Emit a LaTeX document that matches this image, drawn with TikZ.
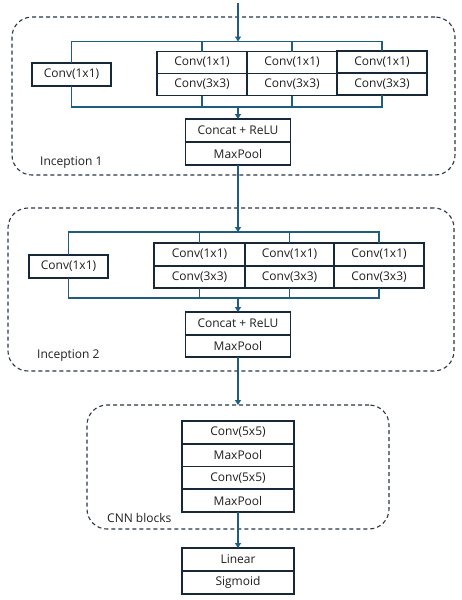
\documentclass[tikz,border=0pt]{standalone}
\usepackage{fontspec}
\setmainfont{Open Sans}
\usetikzlibrary{arrows.meta}
\definecolor{conncol}{HTML}{1F5C7E}
\definecolor{boxcol}{HTML}{17283A}
\definecolor{dashcol}{HTML}{2A3746}
\definecolor{txtcol}{HTML}{1E1E1E}
\begin{document}
\begin{tikzpicture}[x=1pt,y=-1pt,
  cell/.style={draw=boxcol,line width=1.8pt,rectangle,inner sep=0pt,outer sep=0pt,
    font=\fontsize{12}{14}\selectfont,text=txtcol},
  grp/.style={draw=dashcol,line width=1.1pt,dash pattern=on 4pt off 3pt,rounded corners=20pt,
    rectangle,inner sep=0pt,outer sep=0pt},
  conn/.style={draw=conncol,line width=1.4pt},
  arr/.style={conn,-{Triangle[width=6pt,length=5pt]}},
  lab/.style={font=\fontsize{12}{14}\selectfont,text=txtcol,anchor=west,inner sep=0pt}]
\useasboundingbox (0,0) rectangle (462,600);
% ---------------- dashed groups
\node[grp,minimum width=443pt,minimum height=158pt] (inc1) at (233.5,96) {};
\node[grp,minimum width=446pt,minimum height=163pt] (inc2) at (231,289.5) {};
\node[grp,minimum width=302pt,minimum height=124pt] (cnn) at (238,467) {};
\node[lab] (l1) at (40,163) {Inception 1};
\node[lab] (l2) at (37,356) {Inception 2};
\node[lab] (l3) at (107,518) {CNN blocks};
% ---------------- Inception 1
\node[cell,minimum width=79pt,minimum height=23pt] (a0) at (71.5,74.5) {Conv(1x1)};
\node[cell,minimum width=90pt,minimum height=22pt] (a1t) at (202,62.5) {Conv(1x1)};
\node[cell,minimum width=90pt,minimum height=22pt] (a1b) at (202,84.5) {Conv(3x3)};
\node[cell,minimum width=90pt,minimum height=22pt] (a2t) at (292,62.5) {Conv(1x1)};
\node[cell,minimum width=90pt,minimum height=22pt] (a2b) at (292,84.5) {Conv(3x3)};
\node[cell,minimum width=90pt,minimum height=22pt] (a3t) at (382,62) {Conv(1x1)};
\node[cell,minimum width=90pt,minimum height=22pt] (a3b) at (382,84) {Conv(3x3)};
\node[cell,minimum width=105pt,minimum height=23pt] (c1t) at (238,130.5) {Concat + ReLU};
\node[cell,minimum width=105pt,minimum height=23pt] (c1b) at (238,153.5) {MaxPool};
\coordinate (in0) at (238,3);
\coordinate (b1t) at (238,41.5);
\coordinate (b1b) at (238,107);
\draw[arr] (in0) -- (b1t);
\draw[conn] (a0.north) -- (a0.north |- b1t) -- (a3t.north |- b1t) -- (a3t.north);
\draw[conn] (a1t.north |- b1t) -- (a1t.north);
\draw[conn] (a2t.north |- b1t) -- (a2t.north);
\draw[conn] (a0.south) -- (a0.south |- b1b) -- (a3b.south |- b1b) -- (a3b.south);
\draw[conn] (a1b.south) -- (a1b.south |- b1b);
\draw[conn] (a2b.south) -- (a2b.south |- b1b);
\draw[arr] (b1b) -- (c1t.north);
% ---------------- Inception 2
\node[cell,minimum width=79pt,minimum height=23pt] (d0) at (68.5,266.5) {Conv(1x1)};
\node[cell,minimum width=91pt,minimum height=23pt] (d1t) at (199.5,254.5) {Conv(1x1)};
\node[cell,minimum width=91pt,minimum height=22pt] (d1b) at (199.5,277) {Conv(3x3)};
\node[cell,minimum width=90pt,minimum height=23pt] (d2t) at (289.5,254.5) {Conv(1x1)};
\node[cell,minimum width=90pt,minimum height=22pt] (d2b) at (289.5,277) {Conv(3x3)};
\node[cell,minimum width=90pt,minimum height=23pt] (d3t) at (379,254.5) {Conv(1x1)};
\node[cell,minimum width=90pt,minimum height=22pt] (d3b) at (379,277) {Conv(3x3)};
\node[cell,minimum width=105pt,minimum height=23pt] (c2t) at (238,323.5) {Concat + ReLU};
\node[cell,minimum width=105pt,minimum height=22pt] (c2b) at (238,346) {MaxPool};
\coordinate (b2t) at (238,232);
\coordinate (b2b) at (238,298);
\draw[arr] (c1b.south) -- (b2t);
\draw[conn] (d0.north) -- (d0.north |- b2t) -- (d3t.north |- b2t) -- (d3t.north);
\draw[conn] (d1t.north |- b2t) -- (d1t.north);
\draw[conn] (d2t.north |- b2t) -- (d2t.north);
\draw[conn] (d0.south) -- (d0.south |- b2b) -- (d3b.south |- b2b) -- (d3b.south);
\draw[conn] (d1b.south) -- (d1b.south |- b2b);
\draw[conn] (d2b.south) -- (d2b.south |- b2b);
\draw[arr] (b2b) -- (c2t.north);
% ---------------- CNN blocks
\node[cell,minimum width=112pt,minimum height=22.75pt] (s1) at (238,432.4) {Conv(5x5)};
\node[cell,minimum width=112pt,minimum height=22.75pt] (s2) at (238,455.1) {MaxPool};
\node[cell,minimum width=112pt,minimum height=22.75pt] (s3) at (238,477.9) {Conv(5x5)};
\node[cell,minimum width=112pt,minimum height=22.75pt] (s4) at (238,500.6) {MaxPool};
\draw[arr] (c2b.south) -- (cnn.north);
% ---------------- head
\node[cell,minimum width=112pt,minimum height=23pt] (h1) at (238,559.5) {Linear};
\node[cell,minimum width=112pt,minimum height=23pt] (h2) at (238,582.5) {Sigmoid};
\draw[arr] (s4.south) -- (h1.north);
\end{tikzpicture}
\end{document}
